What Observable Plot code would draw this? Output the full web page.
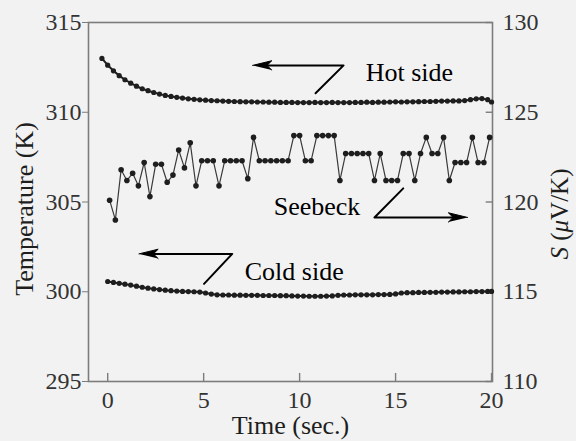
<!DOCTYPE html>
<html><head><meta charset="utf-8">
<script src="https://cdn.jsdelivr.net/npm/d3@7"></script>
<script src="https://cdn.jsdelivr.net/npm/@observablehq/plot@0.6"></script>
<style>
html,body{margin:0;padding:0;background:#f2f2f2;}
#chart svg{display:block;background:#f2f2f2 !important;font-family:'Liberation Serif','Times New Roman',serif !important;}
#chart svg text{font-family:'Liberation Serif','Times New Roman',serif;}
</style></head><body><div id="chart"></div>
<script>
// ---- data ----
const hotTime = [-0.3,0.0,0.3,0.6,0.9,1.2,1.5,1.8,2.1,2.4,2.7,3.0,3.3,3.6,3.9,4.2,4.5,4.8,5.1,5.4,5.7,6.0,6.3,6.6,6.9,7.2,7.5,7.8,8.1,8.4,8.7,9.0,9.3,9.6,9.9,10.2,10.5,10.8,11.1,11.4,11.7,12.0,12.3,12.6,12.9,13.2,13.5,13.8,14.1,14.4,14.7,15.0,15.3,15.6,15.9,16.2,16.5,16.8,17.1,17.4,17.7,18.0,18.3,18.6,18.9,19.2,19.5,19.8,20.0];
const hotTemp = [313.00,312.62,312.31,312.04,311.81,311.62,311.45,311.31,311.20,311.10,311.01,310.94,310.88,310.83,310.79,310.75,310.72,310.69,310.67,310.65,310.64,310.62,310.61,310.60,310.59,310.58,310.58,310.57,310.57,310.56,310.56,310.55,310.55,310.55,310.54,310.54,310.54,310.55,310.54,310.54,310.55,310.54,310.54,310.54,310.55,310.55,310.56,310.55,310.56,310.56,310.57,310.58,310.57,310.58,310.58,310.59,310.60,310.60,310.61,310.62,310.62,310.63,310.63,310.65,310.70,310.75,310.76,310.70,310.57];

const coldTime = [0.0,0.3,0.6,0.9,1.2,1.5,1.8,2.1,2.4,2.7,3.0,3.3,3.6,3.9,4.2,4.5,4.8,5.1,5.4,5.7,6.0,6.3,6.6,6.9,7.2,7.5,7.8,8.1,8.4,8.7,9.0,9.3,9.6,9.9,10.2,10.5,10.8,11.1,11.4,11.7,12.0,12.3,12.6,12.9,13.2,13.5,13.8,14.1,14.4,14.7,15.0,15.3,15.6,15.9,16.2,16.5,16.8,17.1,17.4,17.7,18.0,18.3,18.6,18.9,19.2,19.5,19.8,20.0];
const coldTemp = [300.57,300.52,300.47,300.42,300.37,300.31,300.25,300.20,300.16,300.12,300.09,300.06,300.04,300.02,300.01,300.00,299.98,299.93,299.87,299.83,299.82,299.82,299.81,299.81,299.80,299.80,299.80,299.79,299.79,299.79,299.78,299.78,299.77,299.76,299.76,299.75,299.75,299.75,299.76,299.77,299.80,299.82,299.82,299.83,299.83,299.83,299.83,299.84,299.84,299.85,299.88,299.93,299.95,299.95,299.96,299.96,299.97,299.97,299.98,299.98,299.99,299.99,300.00,300.00,300.01,300.01,300.02,300.02];

const seebeckTime = [0.1,0.4,0.7,1.0,1.3,1.6,1.9,2.2,2.5,2.8,3.1,3.4,3.7,4.0,4.3,4.6,4.9,5.2,5.5,5.8,6.1,6.4,6.7,7.0,7.3,7.6,7.9,8.2,8.5,8.8,9.1,9.4,9.7,10.0,10.3,10.6,10.9,11.2,11.5,11.8,12.1,12.4,12.7,13.0,13.3,13.6,13.9,14.2,14.5,14.8,15.1,15.4,15.7,16.0,16.3,16.6,16.9,17.2,17.5,17.8,18.1,18.4,18.7,19.0,19.3,19.6,19.9];
const seebeckS = [120.1,119.0,121.8,121.2,121.6,120.9,122.2,120.3,122.1,122.1,121.1,121.5,122.9,121.9,123.3,120.9,122.3,122.3,122.3,120.9,122.3,122.3,122.3,122.3,121.3,123.6,122.3,122.3,122.3,122.3,122.3,122.3,123.7,123.7,122.3,122.3,123.7,123.7,123.7,123.7,121.2,122.7,122.7,122.7,122.7,122.7,121.2,122.7,121.2,121.2,121.2,122.7,122.7,121.2,122.7,123.6,122.7,122.7,123.6,121.2,122.2,122.2,122.2,123.6,122.2,122.2,123.6];

const xTicks = [0, 5, 10, 15, 20];
const tempTicks = [295, 300, 305, 310, 315];
const sTicks = [110, 115, 120, 125, 130];
const sOffset = 185; // right axis S(μV/K) shares the pixel scale: S + 185 -> K

// annotation arrows (data coordinates) and labels
const hotArrow = [[10.83, 311.06], [12.29, 312.61], [8.3, 312.61]];
const hotHead = [[7.55, 312.61], [8.55, 312.87], [8.3, 312.61], [8.55, 312.35]];
const seebeckArrow = [[15.4, 305.76], [13.9, 304.14], [18.0, 304.14]];
const seebeckHead = [[18.75, 304.14], [17.75, 304.40], [18.0, 304.14], [17.75, 303.88]];
const coldArrow = [[5.02, 300.44], [6.49, 302.11], [2.4, 302.11]];
const coldHead = [[1.63, 302.11], [2.63, 302.37], [2.38, 302.11], [2.63, 301.85]];
const labels = [
  {t: 13.44, v: 312.2, text: "Hot side"},
  {t: 8.65, v: 304.75, text: "Seebeck"},
  {t: 7.14, v: 301.14, text: "Cold side"}
];

// ---- build ----
const hot = hotTime.map((t, i) => ({t, v: hotTemp[i]}));
const cold = coldTime.map((t, i) => ({t, v: coldTemp[i]}));
const seebeck = seebeckTime.map((t, i) => ({t, v: seebeckS[i] + sOffset}));
const toXY = a => a.map(([t, v]) => ({t, v}));

const ink = "#1e1e1e";
const tickInk = "#333";
const axisGray = "#7c7c7c";

const chart = Plot.plot({
  width: 576, height: 441,
  marginLeft: 88, marginRight: 84, marginTop: 22, marginBottom: 60,
  style: "font-family: 'Liberation Serif', 'Times New Roman', serif; font-size: 24px; background: #f2f2f2; color: #1e1e1e;",
  x: {domain: [-1, 20.05]},
  y: {domain: [295, 315]},
  marks: [
    Plot.frame({stroke: axisGray, strokeWidth: 1.6}),
    // x axis: labels below, ticks pointing inward
    Plot.axisX({ticks: xTicks, tickSize: 0, tickPadding: 9, label: null, fontSize: 24, fill: tickInk}),
    Plot.ruleX(xTicks, {x: d => d, y1: 295, y2: 295.45, stroke: axisGray, strokeWidth: 1.4}),
    // left axis
    Plot.axisY({ticks: tempTicks, tickSize: 6, tickPadding: 1, stroke: axisGray, label: null, fontSize: 24, fill: tickInk}),
    // right axis (S)
    Plot.axisY({anchor: "right", ticks: sTicks.map(s => s + sOffset), tickFormat: d => d - sOffset, tickSize: 0, tickPadding: 10, label: null, fontSize: 24, fill: tickInk}),
    Plot.ruleY(sTicks.map(s => s + sOffset), {y: d => d, x1: 19.72, x2: 20.05, stroke: axisGray, strokeWidth: 1.4}),
    // axis titles
    Plot.text(["Temperature (K)"], {frameAnchor: "left", dx: -64, dy: 7, rotate: -90, textAnchor: "middle", lineAnchor: "middle", fontSize: 26, fill: ink}),
    Plot.text(["S (μV/K)"], {frameAnchor: "right", dx: 67, dy: 12, rotate: -90, textAnchor: "middle", lineAnchor: "middle", fontSize: 25, fill: ink}),
    Plot.text(["Time (sec.)"], {frameAnchor: "bottom", dy: 44, textAnchor: "middle", lineAnchor: "middle", fontSize: 26, fill: ink}),
    // series
    Plot.line(hot, {x: "t", y: "v", stroke: ink, strokeWidth: 2}),
    Plot.dot(hot, {x: "t", y: "v", r: 2.6, fill: ink}),
    Plot.line(cold, {x: "t", y: "v", stroke: ink, strokeWidth: 2}),
    Plot.dot(cold, {x: "t", y: "v", r: 2.6, fill: ink}),
    Plot.line(seebeck, {x: "t", y: "v", stroke: "#3a3a3a", strokeWidth: 1.2}),
    Plot.dot(seebeck, {x: "t", y: "v", r: 2.8, fill: ink}),
    // annotations
    Plot.line(toXY(hotArrow), {x: "t", y: "v", stroke: "#000", strokeWidth: 2}),
    Plot.line(toXY(hotHead), {x: "t", y: "v", fill: "#000", stroke: "#000", strokeWidth: 1}),
    Plot.line(toXY(seebeckArrow), {x: "t", y: "v", stroke: "#000", strokeWidth: 2}),
    Plot.line(toXY(seebeckHead), {x: "t", y: "v", fill: "#000", stroke: "#000", strokeWidth: 1}),
    Plot.line(toXY(coldArrow), {x: "t", y: "v", stroke: "#000", strokeWidth: 2}),
    Plot.line(toXY(coldHead), {x: "t", y: "v", fill: "#000", stroke: "#000", strokeWidth: 1}),
    Plot.text(labels, {x: "t", y: "v", text: "text", textAnchor: "start", lineAnchor: "middle", fontSize: 26, fill: "#000"})
  ]
});

// light grey page tone behind everything
d3.select(chart).insert("rect", ":first-child")
  .attr("x", 0).attr("y", 0).attr("width", 576).attr("height", 441)
  .attr("fill", "#f2f2f2");

// italic S and μ in the right axis title
d3.select(chart).selectAll("text").each(function () {
  if (this.textContent === "S (μV/K)") {
    const el = d3.select(this);
    el.text(null);
    el.append("tspan").attr("font-style", "italic").text("S");
    el.append("tspan").text(" (");
    el.append("tspan").attr("font-style", "italic").text("μ");
    el.append("tspan").text("V/K)");
  }
});

document.getElementById("chart").appendChild(chart);
</script>
</body></html>
